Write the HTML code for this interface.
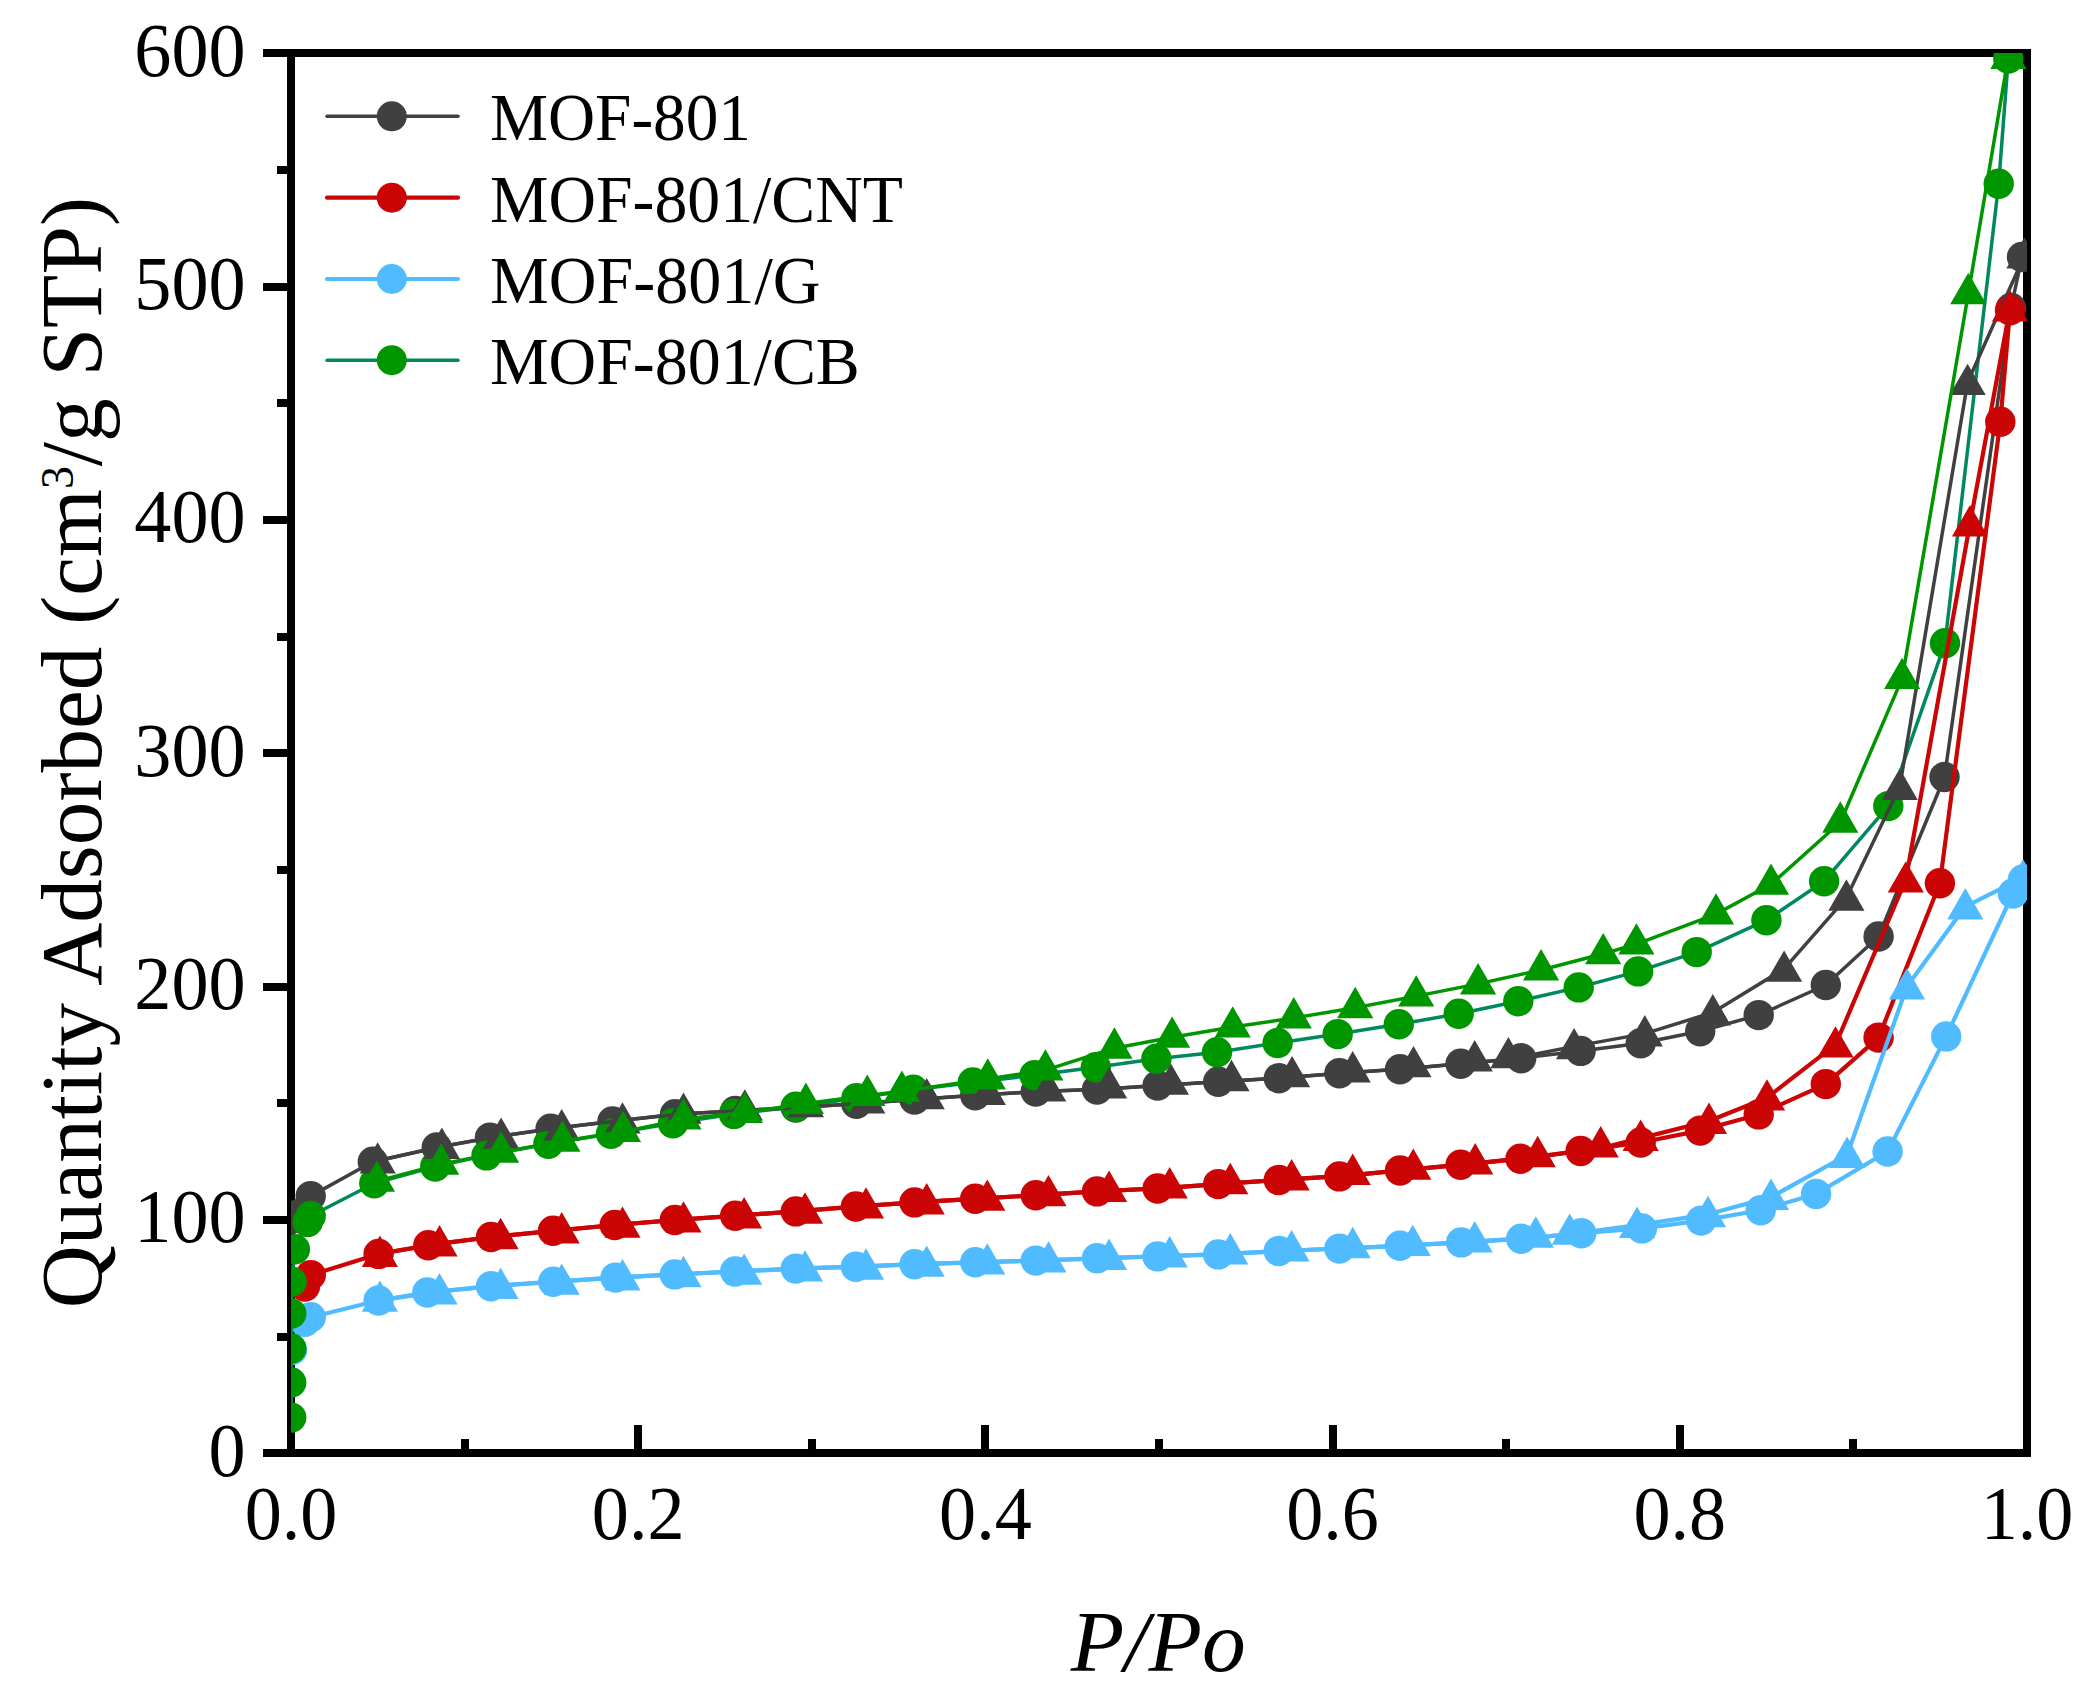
<!DOCTYPE html>
<html lang="en"><head><meta charset="utf-8"><title>N2 adsorption isotherms</title>
<style>
html,body{margin:0;padding:0;background:#fff;}
body{width:2095px;height:1691px;overflow:hidden;}
svg{display:block;}
text{font-family:"Liberation Serif",serif;fill:#000;}
</style></head><body>
<svg width="2095" height="1691" viewBox="0 0 2095 1691">
<rect width="2095" height="1691" fill="#fff"/>
<defs><clipPath id="plot"><rect x="291" y="53" width="1736" height="1400"/></clipPath></defs>
<g id="axes"><rect x="291" y="53" width="1736" height="1400" fill="none" stroke="#000" stroke-width="8"/>
<path d="M263 1453H288M277 1337H288M263 1220H288M277 1103H288M263 987H288M277 870H288M263 753H288M277 637H288M263 520H288M277 403H288M263 287H288M277 170H288M263 53H288M291 1425V1450M465 1439V1450M638 1425V1450M812 1439V1450M985 1425V1450M1159 1439V1450M1333 1425V1450M1506 1439V1450M1680 1425V1450M1853 1439V1450M2027 1425V1450" stroke="#000" stroke-width="8" fill="none"/></g>
<g id="data" clip-path="url(#plot)">
<polyline fill="none" stroke="#404040" stroke-width="3.5" stroke-linejoin="round" stroke-linecap="round" points="292,1218.8 300.6,1213.1 310.7,1196.1 372.8,1161.8 436.7,1147.5 490,1137.6 550.6,1128.8 612.4,1121.5 675,1114.2 735.2,1111 795.8,1107.5 856.4,1103.8 914.5,1099.5 975.2,1095.3 1035.8,1091.6 1097,1089.6 1157.6,1085.5 1218.2,1081.8 1278.8,1078.2 1339.4,1073.3 1400,1069.2 1460.6,1063.8 1521.2,1058.2 1580.6,1050.9 1640.7,1043.2 1700.2,1031.2 1758.7,1015.1 1825.8,985 1878.6,936.5 1944.5,777 2011,308 2022,257"/><g fill="#404040"><circle cx="292" cy="1218.8" r="15.2"/><circle cx="300.6" cy="1213.1" r="15.2"/><circle cx="310.7" cy="1196.1" r="15.2"/><circle cx="372.8" cy="1161.8" r="15.2"/><circle cx="436.7" cy="1147.5" r="15.2"/><circle cx="490" cy="1137.6" r="15.2"/><circle cx="550.6" cy="1128.8" r="15.2"/><circle cx="612.4" cy="1121.5" r="15.2"/><circle cx="675" cy="1114.2" r="15.2"/><circle cx="735.2" cy="1111" r="15.2"/><circle cx="795.8" cy="1107.5" r="15.2"/><circle cx="856.4" cy="1103.8" r="15.2"/><circle cx="914.5" cy="1099.5" r="15.2"/><circle cx="975.2" cy="1095.3" r="15.2"/><circle cx="1035.8" cy="1091.6" r="15.2"/><circle cx="1097" cy="1089.6" r="15.2"/><circle cx="1157.6" cy="1085.5" r="15.2"/><circle cx="1218.2" cy="1081.8" r="15.2"/><circle cx="1278.8" cy="1078.2" r="15.2"/><circle cx="1339.4" cy="1073.3" r="15.2"/><circle cx="1400" cy="1069.2" r="15.2"/><circle cx="1460.6" cy="1063.8" r="15.2"/><circle cx="1521.2" cy="1058.2" r="15.2"/><circle cx="1580.6" cy="1050.9" r="15.2"/><circle cx="1640.7" cy="1043.2" r="15.2"/><circle cx="1700.2" cy="1031.2" r="15.2"/><circle cx="1758.7" cy="1015.1" r="15.2"/><circle cx="1825.8" cy="985" r="15.2"/><circle cx="1878.6" cy="936.5" r="15.2"/><circle cx="1944.5" cy="777" r="15.2"/><circle cx="2011" cy="308" r="15.2"/><circle cx="2022" cy="257" r="15.2"/></g>
<polyline fill="none" stroke="#CB0505" stroke-width="4.2" stroke-linejoin="round" stroke-linecap="round" points="304.9,1286.6 310.8,1275.1 378.6,1253.9 428.3,1245.2 491,1237 553,1230.8 614.7,1225 674.8,1220 735.2,1215.8 795.8,1211.4 855.9,1206.5 914.5,1202.4 975.2,1198.8 1035.8,1195.2 1097,1191.4 1157.6,1188.5 1218.2,1184.1 1278.8,1180 1339.4,1176.4 1400,1170.5 1460.6,1164.8 1520.5,1158.8 1580.6,1151 1640.7,1142.5 1700.2,1130.6 1758.7,1114.4 1825.8,1084.1 1878.6,1037.6 1939.9,883.2 2000.3,421.8 2010,310.3"/><g fill="#CB0505"><circle cx="304.9" cy="1286.6" r="15.2"/><circle cx="310.8" cy="1275.1" r="15.2"/><circle cx="378.6" cy="1253.9" r="15.2"/><circle cx="428.3" cy="1245.2" r="15.2"/><circle cx="491" cy="1237" r="15.2"/><circle cx="553" cy="1230.8" r="15.2"/><circle cx="614.7" cy="1225" r="15.2"/><circle cx="674.8" cy="1220" r="15.2"/><circle cx="735.2" cy="1215.8" r="15.2"/><circle cx="795.8" cy="1211.4" r="15.2"/><circle cx="855.9" cy="1206.5" r="15.2"/><circle cx="914.5" cy="1202.4" r="15.2"/><circle cx="975.2" cy="1198.8" r="15.2"/><circle cx="1035.8" cy="1195.2" r="15.2"/><circle cx="1097" cy="1191.4" r="15.2"/><circle cx="1157.6" cy="1188.5" r="15.2"/><circle cx="1218.2" cy="1184.1" r="15.2"/><circle cx="1278.8" cy="1180" r="15.2"/><circle cx="1339.4" cy="1176.4" r="15.2"/><circle cx="1400" cy="1170.5" r="15.2"/><circle cx="1460.6" cy="1164.8" r="15.2"/><circle cx="1520.5" cy="1158.8" r="15.2"/><circle cx="1580.6" cy="1151" r="15.2"/><circle cx="1640.7" cy="1142.5" r="15.2"/><circle cx="1700.2" cy="1130.6" r="15.2"/><circle cx="1758.7" cy="1114.4" r="15.2"/><circle cx="1825.8" cy="1084.1" r="15.2"/><circle cx="1878.6" cy="1037.6" r="15.2"/><circle cx="1939.9" cy="883.2" r="15.2"/><circle cx="2000.3" cy="421.8" r="15.2"/><circle cx="2010" cy="310.3" r="15.2"/></g>
<polyline fill="none" stroke="#50BCFF" stroke-width="4.2" stroke-linejoin="round" stroke-linecap="round" points="292,1350 304.9,1321.7 310.8,1317.3 378.6,1300.5 427.3,1292.5 491,1286.2 553.3,1281.8 615.5,1277.6 674.8,1274.4 735.2,1271.5 795.8,1268.6 855.9,1266.7 914.5,1264.2 975.2,1262.3 1035.8,1260.6 1097,1258.3 1157.6,1256.4 1218.2,1254.4 1278.8,1251 1339.4,1248.6 1400,1245.8 1461.1,1242.4 1521.2,1238.8 1581.3,1233.2 1641.9,1228.4 1701.1,1220.6 1760.7,1210.3 1816.1,1193.9 1887.6,1151.5 1946.2,1036.4 2013,893.5 2023,879.5"/><g fill="#50BCFF"><circle cx="292" cy="1350" r="15.2"/><circle cx="304.9" cy="1321.7" r="15.2"/><circle cx="310.8" cy="1317.3" r="15.2"/><circle cx="378.6" cy="1300.5" r="15.2"/><circle cx="427.3" cy="1292.5" r="15.2"/><circle cx="491" cy="1286.2" r="15.2"/><circle cx="553.3" cy="1281.8" r="15.2"/><circle cx="615.5" cy="1277.6" r="15.2"/><circle cx="674.8" cy="1274.4" r="15.2"/><circle cx="735.2" cy="1271.5" r="15.2"/><circle cx="795.8" cy="1268.6" r="15.2"/><circle cx="855.9" cy="1266.7" r="15.2"/><circle cx="914.5" cy="1264.2" r="15.2"/><circle cx="975.2" cy="1262.3" r="15.2"/><circle cx="1035.8" cy="1260.6" r="15.2"/><circle cx="1097" cy="1258.3" r="15.2"/><circle cx="1157.6" cy="1256.4" r="15.2"/><circle cx="1218.2" cy="1254.4" r="15.2"/><circle cx="1278.8" cy="1251" r="15.2"/><circle cx="1339.4" cy="1248.6" r="15.2"/><circle cx="1400" cy="1245.8" r="15.2"/><circle cx="1461.1" cy="1242.4" r="15.2"/><circle cx="1521.2" cy="1238.8" r="15.2"/><circle cx="1581.3" cy="1233.2" r="15.2"/><circle cx="1641.9" cy="1228.4" r="15.2"/><circle cx="1701.1" cy="1220.6" r="15.2"/><circle cx="1760.7" cy="1210.3" r="15.2"/><circle cx="1816.1" cy="1193.9" r="15.2"/><circle cx="1887.6" cy="1151.5" r="15.2"/><circle cx="1946.2" cy="1036.4" r="15.2"/><circle cx="2013" cy="893.5" r="15.2"/><circle cx="2023" cy="879.5" r="15.2"/></g>
<polyline fill="none" stroke="#008860" stroke-width="3.5" stroke-linejoin="round" stroke-linecap="round" points="291.2,1417.6 291.2,1382.4 291.3,1348.5 291.3,1313.6 291.6,1281.8 294.9,1249.2 307.7,1221.9 310.7,1216 374.3,1183.2 435.2,1166.6 486.5,1155.4 548.4,1143.8 611,1133.8 673,1123.2 733.9,1113.9 795.8,1106.7 856.4,1098.2 913.3,1089.7 972.7,1082.4 1034.5,1075.2 1095.8,1067.3 1156.4,1058.8 1217,1052.2 1277.6,1043 1337.7,1034.1 1398.8,1024.3 1458.7,1013.8 1518.3,1001.2 1578.7,987.4 1638.1,971.4 1696.7,952.1 1766.4,920.2 1824.1,881.2 1888.3,806.1 1945,643.2 1998.7,183.7 2008.3,58.5"/><g fill="#009600"><circle cx="291.2" cy="1417.6" r="15.2"/><circle cx="291.2" cy="1382.4" r="15.2"/><circle cx="291.3" cy="1348.5" r="15.2"/><circle cx="291.3" cy="1313.6" r="15.2"/><circle cx="291.6" cy="1281.8" r="15.2"/><circle cx="294.9" cy="1249.2" r="15.2"/><circle cx="307.7" cy="1221.9" r="15.2"/><circle cx="310.7" cy="1216" r="15.2"/><circle cx="374.3" cy="1183.2" r="15.2"/><circle cx="435.2" cy="1166.6" r="15.2"/><circle cx="486.5" cy="1155.4" r="15.2"/><circle cx="548.4" cy="1143.8" r="15.2"/><circle cx="611" cy="1133.8" r="15.2"/><circle cx="673" cy="1123.2" r="15.2"/><circle cx="733.9" cy="1113.9" r="15.2"/><circle cx="795.8" cy="1106.7" r="15.2"/><circle cx="856.4" cy="1098.2" r="15.2"/><circle cx="913.3" cy="1089.7" r="15.2"/><circle cx="972.7" cy="1082.4" r="15.2"/><circle cx="1034.5" cy="1075.2" r="15.2"/><circle cx="1095.8" cy="1067.3" r="15.2"/><circle cx="1156.4" cy="1058.8" r="15.2"/><circle cx="1217" cy="1052.2" r="15.2"/><circle cx="1277.6" cy="1043" r="15.2"/><circle cx="1337.7" cy="1034.1" r="15.2"/><circle cx="1398.8" cy="1024.3" r="15.2"/><circle cx="1458.7" cy="1013.8" r="15.2"/><circle cx="1518.3" cy="1001.2" r="15.2"/><circle cx="1578.7" cy="987.4" r="15.2"/><circle cx="1638.1" cy="971.4" r="15.2"/><circle cx="1696.7" cy="952.1" r="15.2"/><circle cx="1766.4" cy="920.2" r="15.2"/><circle cx="1824.1" cy="881.2" r="15.2"/><circle cx="1888.3" cy="806.1" r="15.2"/><circle cx="1945" cy="643.2" r="15.2"/><circle cx="1998.7" cy="183.7" r="15.2"/><circle cx="2008.3" cy="58.5" r="15.2"/></g>
<polyline fill="none" stroke="#404040" stroke-width="3.5" stroke-linejoin="round" stroke-linecap="round" points="2024.4,255.7 1967.6,382.2 1899.7,787 1846.4,897.8 1784.1,968.9 1712.8,1012.5 1644.8,1033.6 1574.1,1046.4 1508.4,1059.4 1474.7,1062.5 1413.5,1068 1352.7,1072.4 1292.1,1077.1 1231.5,1081 1170.9,1084.7 1109.1,1088.8 1048.2,1091.2 987.8,1094.5 926.7,1098.7 867.3,1103 805.9,1106.9 744.8,1110.4 683.5,1113.7 622.5,1120.3 561.7,1127.5 501.1,1136 441.9,1146.5 377.7,1160.7"/><path fill="#404040" d="M2024.4 237.2L2006.3 268.6L2042.5 268.6ZM1967.6 363.7L1949.5 395.1L1985.7 395.1ZM1899.7 768.5L1881.6 799.9L1917.8 799.9ZM1846.4 879.3L1828.3 910.7L1864.5 910.7ZM1784.1 950.4L1766 981.8L1802.2 981.8ZM1712.8 994L1694.7 1025.4L1730.9 1025.4ZM1644.8 1015.1L1626.7 1046.5L1662.9 1046.5ZM1574.1 1027.9L1556 1059.3L1592.2 1059.3ZM1508.4 1036.9L1490.3 1068.3L1526.5 1068.3ZM1474.7 1040L1456.6 1071.4L1492.8 1071.4ZM1413.5 1045.9L1395.4 1077.3L1431.6 1077.3ZM1352.7 1051.1L1334.6 1082.5L1370.8 1082.5ZM1292.1 1055.9L1274 1087.3L1310.2 1087.3ZM1231.5 1059.8L1213.4 1091.2L1249.6 1091.2ZM1170.9 1063.4L1152.8 1094.8L1189 1094.8ZM1109.1 1067.1L1091 1098.5L1127.2 1098.5ZM1048.2 1070.2L1030.1 1101.6L1066.3 1101.6ZM987.8 1073.5L969.7 1104.9L1005.9 1104.9ZM926.7 1077.9L908.6 1109.3L944.8 1109.3ZM867.3 1082.2L849.2 1113.6L885.4 1113.6ZM805.9 1085.9L787.8 1117.3L824 1117.3ZM744.8 1089.2L726.7 1120.6L762.9 1120.6ZM683.5 1092.4L665.4 1123.8L701.6 1123.8ZM622.5 1102.2L604.4 1133.6L640.6 1133.6ZM561.7 1109L543.6 1140.4L579.8 1140.4ZM501.1 1117.4L483 1148.8L519.2 1148.8ZM441.9 1127.6L423.8 1159L460 1159ZM377.7 1142.2L359.6 1173.6L395.8 1173.6Z"/>
<polyline fill="none" stroke="#CB0505" stroke-width="4.2" stroke-linejoin="round" stroke-linecap="round" points="2010,308.5 1970,523.5 1905.8,879.7 1835.5,1044.7 1767,1097.7 1709,1121 1640.7,1138.1 1600.7,1148.2 1537.7,1156.6 1475.2,1163.3 1413.3,1169.2 1352.7,1175.1 1291.6,1179.2 1230.3,1183.3 1169.7,1187.6 1109.1,1190.8 1048.5,1194.4 987.3,1198.1 926.7,1201.7 866,1205.8 805,1210.6 744.1,1215.2 683.5,1219.4 622.5,1224.4 561.7,1230 500.6,1236 439.5,1243.7 379.9,1253.7"/><path fill="#CB0505" d="M2010 290L1991.9 321.4L2028.1 321.4ZM1970 505L1951.9 536.4L1988.1 536.4ZM1905.8 861.2L1887.7 892.6L1923.9 892.6ZM1835.5 1026.2L1817.4 1057.6L1853.6 1057.6ZM1767 1079.2L1748.9 1110.6L1785.1 1110.6ZM1709 1102.5L1690.9 1133.9L1727.1 1133.9ZM1640.7 1119.6L1622.6 1151L1658.8 1151ZM1600.7 1126.1L1582.6 1157.5L1618.8 1157.5ZM1537.7 1135.8L1519.6 1167.2L1555.8 1167.2ZM1475.2 1143.1L1457.1 1174.5L1493.3 1174.5ZM1413.3 1148.4L1395.2 1179.8L1431.4 1179.8ZM1352.7 1153.6L1334.6 1185L1370.8 1185ZM1291.6 1159L1273.5 1190.4L1309.7 1190.4ZM1230.3 1162.8L1212.2 1194.2L1248.4 1194.2ZM1169.7 1167L1151.6 1198.4L1187.8 1198.4ZM1109.1 1170.6L1091 1202L1127.2 1202ZM1048.5 1174.9L1030.4 1206.3L1066.6 1206.3ZM987.3 1179.4L969.2 1210.8L1005.4 1210.8ZM926.7 1183.1L908.6 1214.5L944.8 1214.5ZM866 1187.2L847.9 1218.6L884.1 1218.6ZM805 1192.3L786.9 1223.7L823.1 1223.7ZM744.1 1197.1L726 1228.5L762.2 1228.5ZM683.5 1201.2L665.4 1232.6L701.6 1232.6ZM622.5 1206.4L604.4 1237.8L640.6 1237.8ZM561.7 1212L543.6 1243.4L579.8 1243.4ZM500.6 1217.8L482.5 1249.2L518.7 1249.2ZM439.5 1225.1L421.4 1256.5L457.6 1256.5ZM379.9 1235.5L361.8 1266.9L398 1266.9Z"/>
<polyline fill="none" stroke="#50BCFF" stroke-width="4.2" stroke-linejoin="round" stroke-linecap="round" points="2023.1,877.7 1965.3,906.6 1907,986.5 1847.1,1155 1771,1197.1 1708,1214.3 1637.1,1225.1 1569.7,1234.3 1535.8,1237.4 1474.7,1241.6 1412.7,1245.1 1352.7,1248 1291.6,1250.5 1230.3,1253.7 1169.7,1256 1109.1,1257.9 1048.5,1260.1 987.3,1262 926.7,1263.8 866,1266.3 805,1268.3 744.1,1271.1 683.5,1274 622.5,1277.2 561.7,1281.2 500.6,1285.5 439.5,1291.3 379.9,1300.3"/><path fill="#50BCFF" d="M2023.1 859.2L2005 890.6L2041.2 890.6ZM1965.3 888.1L1947.2 919.5L1983.4 919.5ZM1907 968L1888.9 999.4L1925.1 999.4ZM1847.1 1136.5L1829 1167.9L1865.2 1167.9ZM1771 1178.6L1752.9 1210L1789.1 1210ZM1708 1195.8L1689.9 1227.2L1726.1 1227.2ZM1637.1 1206.6L1619 1238L1655.2 1238ZM1569.7 1213.4L1551.6 1244.8L1587.8 1244.8ZM1535.8 1216.3L1517.7 1247.7L1553.9 1247.7ZM1474.7 1221.1L1456.6 1252.5L1492.8 1252.5ZM1412.7 1224.7L1394.6 1256.1L1430.8 1256.1ZM1352.7 1226.8L1334.6 1258.2L1370.8 1258.2ZM1291.6 1230L1273.5 1261.4L1309.7 1261.4ZM1230.3 1233.1L1212.2 1264.5L1248.4 1264.5ZM1169.7 1236L1151.6 1267.4L1187.8 1267.4ZM1109.1 1238.5L1091 1269.9L1127.2 1269.9ZM1048.5 1241.2L1030.4 1272.6L1066.6 1272.6ZM987.3 1243.2L969.2 1274.6L1005.4 1274.6ZM926.7 1245.4L908.6 1276.8L944.8 1276.8ZM866 1248.3L847.9 1279.7L884.1 1279.7ZM805 1250.2L786.9 1281.6L823.1 1281.6ZM744.1 1253.4L726 1284.8L762.2 1284.8ZM683.5 1255.8L665.4 1287.2L701.6 1287.2ZM622.5 1259L604.4 1290.4L640.6 1290.4ZM561.7 1263.4L543.6 1294.8L579.8 1294.8ZM500.6 1267.7L482.5 1299.1L518.7 1299.1ZM439.5 1273.1L421.4 1304.5L457.6 1304.5ZM379.9 1280.4L361.8 1311.8L398 1311.8Z"/>
<polyline fill="none" stroke="#009600" stroke-width="3.5" stroke-linejoin="round" stroke-linecap="round" points="2008.4,56.1 1968.3,293.7 1902.1,678.6 1840.3,822.2 1771,884.3 1716,914.1 1636.4,944.1 1603.2,953.8 1541.1,970 1478.1,983.9 1416.2,996.1 1355.2,1007.7 1293.8,1017.9 1232.7,1027.1 1172.1,1037.3 1114.4,1048.2 1045.4,1070.1 987.8,1079.1 901.9,1091.3 867.3,1095.4 805.9,1103.4 744.8,1112.6 683.5,1119.1 623,1131.6 562.4,1141.3 501.1,1152.2 441.2,1164.3 377,1181.3"/><path fill="#009600" d="M2008.4 37.5L1990.3 68.9L2026.5 68.9ZM1968.3 272.8L1950.2 304.2L1986.4 304.2ZM1902.1 657.7L1884 689.1L1920.2 689.1ZM1840.3 801.3L1822.2 832.7L1858.4 832.7ZM1771 863.4L1752.9 894.8L1789.1 894.8ZM1716 893.2L1697.9 924.6L1734.1 924.6ZM1636.4 923.2L1618.3 954.6L1654.5 954.6ZM1603.2 932.9L1585.1 964.3L1621.3 964.3ZM1541.1 949.1L1523 980.5L1559.2 980.5ZM1478.1 963L1460 994.4L1496.2 994.4ZM1416.2 975.2L1398.1 1006.6L1434.3 1006.6ZM1355.2 986.8L1337.1 1018.2L1373.3 1018.2ZM1293.8 997L1275.7 1028.4L1311.9 1028.4ZM1232.7 1006.2L1214.6 1037.6L1250.8 1037.6ZM1172.1 1016.4L1154 1047.8L1190.2 1047.8ZM1114.4 1027.3L1096.3 1058.7L1132.5 1058.7ZM1045.4 1049.2L1027.3 1080.6L1063.5 1080.6ZM987.8 1058.2L969.7 1089.6L1005.9 1089.6ZM901.9 1070.4L883.8 1101.8L920 1101.8ZM867.3 1074.5L849.2 1105.9L885.4 1105.9ZM805.9 1082.5L787.8 1113.9L824 1113.9ZM744.8 1091.7L726.7 1123.1L762.9 1123.1ZM683.5 1098.2L665.4 1129.6L701.6 1129.6ZM623 1110.7L604.9 1142.1L641.1 1142.1ZM562.4 1120.4L544.3 1151.8L580.5 1151.8ZM501.1 1131.3L483 1162.7L519.2 1162.7ZM441.2 1143.4L423.1 1174.8L459.3 1174.8ZM377 1160.4L358.9 1191.8L395.1 1191.8Z"/>
</g>
<g id="ticklabels"><g font-size="76.4"><text transform="translate(245.6 1475.7) scale(0.971 1)" text-anchor="end">0</text><text transform="translate(245.6 1242.4) scale(0.971 1)" text-anchor="end">100</text><text transform="translate(245.6 1009) scale(0.971 1)" text-anchor="end">200</text><text transform="translate(245.6 775.7) scale(0.971 1)" text-anchor="end">300</text><text transform="translate(245.6 542.4) scale(0.971 1)" text-anchor="end">400</text><text transform="translate(245.6 309) scale(0.971 1)" text-anchor="end">500</text><text transform="translate(245.6 75.7) scale(0.971 1)" text-anchor="end">600</text><text transform="translate(291 1539.4) scale(0.971 1)" text-anchor="middle">0.0</text><text transform="translate(638.2 1539.4) scale(0.971 1)" text-anchor="middle">0.2</text><text transform="translate(985.4 1539.4) scale(0.971 1)" text-anchor="middle">0.4</text><text transform="translate(1332.6 1539.4) scale(0.971 1)" text-anchor="middle">0.6</text><text transform="translate(1679.8 1539.4) scale(0.971 1)" text-anchor="middle">0.8</text><text transform="translate(2027 1539.4) scale(0.971 1)" text-anchor="middle">1.0</text></g></g>
<g id="legend"><path d="M327 116.3H458" stroke="#404040" stroke-width="3.5" stroke-linecap="round"/><circle cx="391.8" cy="116.3" r="15" fill="#404040"/><text transform="translate(490 140.3) scale(0.978 1)" font-size="66.7">MOF-801</text><path d="M327 197.7H458" stroke="#CB0505" stroke-width="4.2" stroke-linecap="round"/><circle cx="391.8" cy="197.7" r="15" fill="#CB0505"/><text transform="translate(490 222) scale(0.986 1)" font-size="66.7">MOF-801/CNT</text><path d="M327 279H458" stroke="#50BCFF" stroke-width="4.2" stroke-linecap="round"/><circle cx="391.8" cy="279" r="15" fill="#50BCFF"/><text transform="translate(490 303.1) scale(0.991 1)" font-size="66.7">MOF-801/G</text><path d="M327 360.2H458" stroke="#008860" stroke-width="3.5" stroke-linecap="round"/><circle cx="391.8" cy="360.2" r="15" fill="#009600"/><text transform="translate(490 384) scale(0.988 1)" font-size="66.7">MOF-801/CB</text></g>
<g id="titles"><text x="1158.3" y="1670.6" font-size="87.5" font-style="italic" text-anchor="middle">P/Po</text>
<text transform="translate(100.9 752.6) rotate(-90) scale(0.9973 1)" font-size="87.5" text-anchor="middle">Quantity Adsorbed (cm<tspan font-size="46" dy="-27.7">3</tspan><tspan dy="27.7">/g STP)</tspan></text></g>
</svg>
</body></html>
